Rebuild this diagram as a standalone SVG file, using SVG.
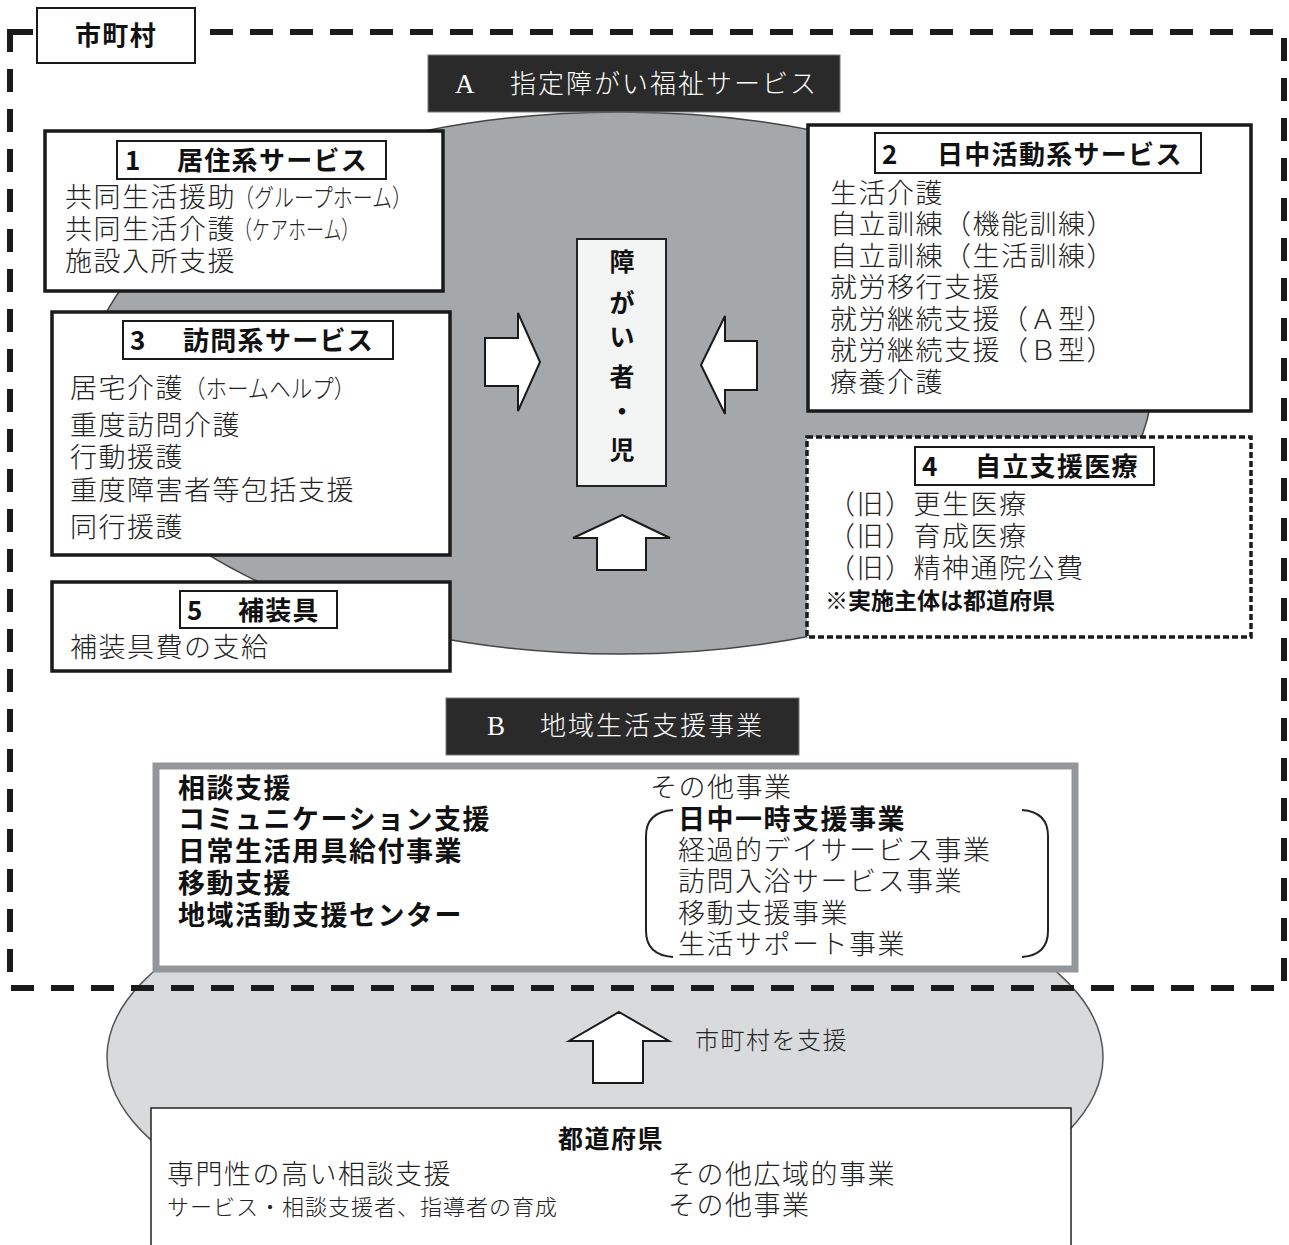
<svg xmlns="http://www.w3.org/2000/svg" width="1289" height="1245" viewBox="0 0 1289 1245">
<style>
text{font-family:"Noto Sans CJK JP","Noto Sans",sans-serif;}
.body{font-size:27px;letter-spacing:1.5px;fill:#222;font-weight:300}
.paren{font-size:25px;fill:#222;font-weight:300}
.hd{font-size:26px;font-weight:700;letter-spacing:1.3px;fill:#111}
.bold{font-size:27px;font-weight:700;letter-spacing:1.5px;fill:#111}
.box{fill:#fff;stroke:#1a1a1a;stroke-width:3.5}
.hbox{fill:#fff;stroke:#1a1a1a;stroke-width:2}
.banner{fill:#2a2a2a;stroke:#777;stroke-width:1}
.btxt{font-size:26px;fill:#fff;letter-spacing:2px;font-weight:300}
.lat{font-family:"Liberation Serif",serif;font-size:27px;fill:#fff}
.arrow{fill:#fff;stroke:#1a1a1a;stroke-width:2}
</style>
<rect x="0" y="0" width="1289" height="1245" fill="#fff"/>

<g id="pref-ellipse"><ellipse cx="605" cy="1057" rx="498" ry="202" fill="#d9dadb" stroke="#555" stroke-width="1.5"/></g>
<g id="main-ellipse"><ellipse cx="620" cy="383" rx="532" ry="271" fill="#a5a8ab" stroke="#444" stroke-width="1.5"/></g>

<g id="municipality">
<rect x="10" y="32" width="1274" height="956" fill="none" stroke="#1a1a1a" stroke-width="6" stroke-dasharray="23 17"/>
<rect x="37" y="8" width="158" height="55" class="hbox"/>
<text x="116" y="45" text-anchor="middle" class="hd">市町村</text>
</g>

<g id="bannerA">
<rect x="428" y="55" width="412" height="57" class="banner"/>
<text x="455" y="93" class="lat">A</text>
<text x="510" y="93" class="btxt">指定障がい福祉サービス</text>
</g>

<g id="box1">
<rect x="45" y="131" width="398" height="160" class="box"/>
<rect x="117" y="141" width="269" height="38" class="hbox"/>
<text x="125" y="170" class="hd">1</text>
<text x="177" y="170" class="hd">居住系サービス</text>
<text x="65" y="207" class="body">共同生活援助</text>
<text class="paren" transform="translate(234,207) scale(0.8,1)">（グループホーム）</text>
<text x="65" y="239" class="body">共同生活介護</text>
<text class="paren" transform="translate(234,239) scale(0.72,1)">（ケアホーム）</text>
<text x="65" y="271" class="body">施設入所支援</text>
</g>

<g id="box2">
<rect x="808" y="125" width="443" height="286" class="box"/>
<rect x="875" y="133" width="326" height="40" class="hbox"/>
<text x="882" y="164" class="hd">2</text>
<text x="937" y="164" class="hd">日中活動系サービス</text>
<text x="830" y="203" class="body">生活介護</text>
<text x="830" y="234" class="body">自立訓練（機能訓練）</text>
<text x="830" y="266" class="body">自立訓練（生活訓練）</text>
<text x="830" y="297" class="body">就労移行支援</text>
<text x="830" y="329" class="body">就労継続支援（Ａ型）</text>
<text x="830" y="360" class="body">就労継続支援（Ｂ型）</text>
<text x="830" y="392" class="body">療養介護</text>
</g>

<g id="box3">
<rect x="52" y="312" width="398" height="243" class="box"/>
<rect x="123" y="321" width="270" height="38" class="hbox"/>
<text x="130" y="350" class="hd">3</text>
<text x="183" y="350" class="hd">訪問系サービス</text>
<text x="70" y="398" class="body">居宅介護</text>
<text class="paren" transform="translate(184,398) scale(0.86,1)">（ホームヘルプ）</text>
<text x="70" y="435" class="body">重度訪問介護</text>
<text x="70" y="467" class="body">行動援護</text>
<text x="70" y="500" class="body">重度障害者等包括支援</text>
<text x="70" y="537" class="body">同行援護</text>
</g>

<g id="box5">
<rect x="52" y="582" width="398" height="89" class="box"/>
<rect x="180" y="591" width="157" height="37" class="hbox"/>
<text x="187" y="620" class="hd">5</text>
<text x="238" y="620" class="hd">補装具</text>
<text x="70" y="657" class="body">補装具費の支給</text>
</g>

<g id="box4">
<rect x="807" y="437" width="444" height="200" fill="#fff" stroke="#1a1a1a" stroke-width="3.5" stroke-dasharray="6 3"/>
<rect x="915" y="447" width="239" height="38" class="hbox"/>
<text x="922" y="476" class="hd">4</text>
<text x="975" y="476" class="hd">自立支援医療</text>
<text x="828" y="514" class="body">（旧）更生医療</text>
<text x="828" y="546" class="body">（旧）育成医療</text>
<text x="828" y="578" class="body">（旧）精神通院公費</text>
<text x="825" y="609" font-size="23" font-weight="700" fill="#111">※実施主体は都道府県</text>
</g>

<g id="center">
<rect x="577" y="239" width="89" height="247" fill="#f3f4f4" stroke="#222" stroke-width="2"/>
<text text-anchor="middle" font-size="25" font-weight="700" fill="#111">
<tspan x="622" y="271">障</tspan><tspan x="622" y="312">が</tspan><tspan x="622" y="346">い</tspan><tspan x="622" y="386">者</tspan><tspan x="622" y="421">・</tspan><tspan x="622" y="459">児</tspan>
</text>
</g>

<g id="connectors">
<polygon class="arrow" points="485,338 518,338 518,313 540,362 518,411 518,386 485,386"/>
<polygon class="arrow" points="757,341 725,341 725,316 701,365 725,414 725,390 757,390"/>
<polygon class="arrow" points="622,515 670,538 646,538 646,570 597,570 597,538 573,538"/>
<polygon class="arrow" points="619,1012 669,1041 643,1041 643,1083 593,1083 593,1041 569,1041"/>
<text x="695" y="1049" font-size="24" letter-spacing="1.5" font-weight="300" fill="#222">市町村を支援</text>
</g>

<g id="bannerB">
<rect x="446" y="698" width="353" height="57" class="banner"/>
<text x="487" y="735" class="lat">B</text>
<text x="540" y="735" class="btxt">地域生活支援事業</text>
</g>

<g id="boxB">
<rect x="156" y="766" width="919" height="203" fill="#fff" stroke="#949799" stroke-width="7"/>
<text x="178" y="798" class="bold">相談支援</text>
<text x="178" y="829" class="bold">コミュニケーション支援</text>
<text x="178" y="861" class="bold">日常生活用具給付事業</text>
<text x="178" y="893" class="bold">移動支援</text>
<text x="178" y="925" class="bold">地域活動支援センター</text>
<text x="650" y="797" class="body">その他事業</text>
<path d="M673,810 Q646,812 646,836 L646,931 Q646,955 673,957" fill="none" stroke="#222" stroke-width="2"/>
<path d="M1022,810 Q1048,812 1048,836 L1048,931 Q1048,955 1022,957" fill="none" stroke="#222" stroke-width="2"/>
<text x="678" y="829" class="bold">日中一時支援事業</text>
<text x="678" y="860" class="body">経過的デイサービス事業</text>
<text x="678" y="891" class="body">訪問入浴サービス事業</text>
<text x="678" y="923" class="body">移動支援事業</text>
<text x="678" y="954" class="body">生活サポート事業</text>
</g>

<g id="prefecture">
<rect x="151" y="1108" width="920" height="160" fill="#fff" stroke="#222" stroke-width="1.5"/>
<text x="611" y="1148" text-anchor="middle" font-size="25" font-weight="700" letter-spacing="1.5" fill="#111">都道府県</text>
<text x="167" y="1184" class="body">専門性の高い相談支援</text>
<text x="167" y="1215" font-size="22" letter-spacing="1" font-weight="300" fill="#222">サービス・相談支援者、指導者の育成</text>
<text x="668" y="1184" class="body">その他広域的事業</text>
<text x="668" y="1215" class="body">その他事業</text>
</g>
</svg>
